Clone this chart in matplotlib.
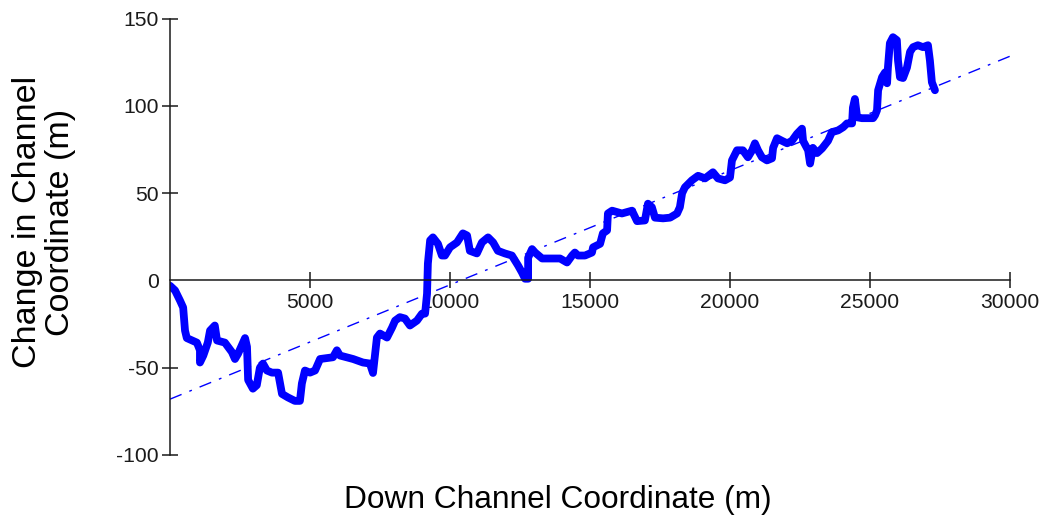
import matplotlib
matplotlib.use("Agg")
import matplotlib.pyplot as plt
import numpy as np

plt.rcParams["font.family"] = ["Liberation Sans", "DejaVu Sans"]

# Down-channel distance (m) and lateral change in channel coordinate (m)
down_channel = [
    0, 180, 357, 470, 536, 600, 960, 1070, 1070, 1190, 1350, 1430, 1600, 1680,
    1960, 2210, 2320, 2430, 2680, 2750, 2790, 2960, 3100, 3210, 3320, 3460,
    3640, 3860, 3930, 4000, 4210, 4460, 4640, 4710, 4820, 5000, 5180, 5360,
    5820, 5960, 6070, 6540, 6890, 7140, 7250, 7390, 7500, 7750, 7930, 8040,
    8210, 8390, 8570, 8820, 9000, 9110, 9180, 9210, 9290, 9390, 9570, 9710,
    9820, 10000, 10250, 10460, 10610, 10710, 10960, 11140, 11360, 11540, 11710,
    11960, 12210, 12430, 12570, 12680, 12790, 12790, 12930, 13040, 13290, 13640,
    13930, 14180, 14360, 14460, 14570, 14820, 15070, 15110, 15360, 15460, 15610,
    15640, 15790, 16140, 16500, 16680, 16960, 17070, 17210, 17320, 17610, 17860,
    18110, 18210, 18290, 18390, 18640, 18860, 19110, 19390, 19570, 19820, 20000,
    20070, 20250, 20460, 20640, 20790, 20890, 21000, 21140, 21320, 21500, 21540,
    21680, 21860, 22040, 22210, 22390, 22570, 22610, 22790, 22860, 22960, 23110,
    23290, 23500, 23640, 23860, 24040, 24180, 24360, 24390, 24460, 24540, 24710,
    24930, 25110, 25180, 25250, 25290, 25430, 25540, 25610, 25640, 25710, 25820,
    25960, 26000, 26070, 26180, 26320, 26430, 26540, 26710, 26890, 27070, 27140,
    27210, 27320,
]
channel_change = [
    -3, -5.7, -11.5, -15.5, -28.7, -33, -35.6, -40, -47, -43, -35.6, -28.7,
    -25.8, -34.4, -35.6, -41, -45, -42, -33, -38, -57, -62, -60, -50, -47.6,
    -51.6, -52.8, -52.8, -59, -65, -67, -69, -69, -59, -51.6, -52.8, -51.6,
    -45, -44, -40, -43, -45, -47, -47.6, -53, -32.7, -30.4, -32.7, -27, -23,
    -21, -21.8, -25.8, -23, -19, -19, -7.5, 9.7, 23, 24.7, 21, 14.3, 14.3, 19,
    21.8, 27, 25.8, 17, 15.5, 21.8, 24.7, 21.8, 17, 15.5, 14.3, 8.6, 4.6, 1, 1,
    13, 18, 16, 12.6, 12.6, 12.6, 10.3, 14.3, 16, 14.3, 14.3, 16, 19, 21, 27,
    28.7, 38.4, 40, 38.4, 40, 34, 34.4, 44, 42, 36, 35.6, 36, 38.4, 42, 50,
    53.4, 57.4, 60, 58.5, 62, 58.5, 57.4, 59, 68.8, 74.6, 74.6, 70.6, 74.6,
    78.6, 74.6, 70.6, 68.8, 70, 76, 81.5, 80, 78.6, 80, 84, 87, 80, 74.6, 67,
    76, 73, 75.7, 80, 85, 86, 87.8, 90, 90, 99, 104, 93.5, 93, 93, 93, 94.7,
    97.5, 109, 116.5, 119.3, 113, 122, 136, 139.4, 137.7, 126, 116.5, 116, 122,
    131, 133.7, 134.8, 133.7, 134.8, 126, 113.6, 109,
]

# Linear trend fitted to the profile
trend_intercept = -68.0
trend_slope = 0.00655
trend_range = [0, 30000]

x_ticks = [5000, 10000, 15000, 20000, 25000, 30000]
y_ticks = [-100, -50, 0, 50, 100, 150]

fig = plt.figure(figsize=(10.4, 5.22), dpi=100)
ax = fig.add_axes([170 / 1040, (522 - 455) / 522, 840 / 1040, 436.3 / 522])

tx = np.array(trend_range, dtype=float)
ax.plot(tx, trend_intercept + trend_slope * tx, color="#0000ff", lw=1.0,
        linestyle=(0, (9, 6, 2, 6)), zorder=1)
ax.plot(down_channel, channel_change, color="#0000ff", lw=5.6,
        solid_joinstyle="round", solid_capstyle="round", zorder=2)

ax.set_xlim(0, 30000)
ax.set_ylim(-100, 150)
ax.spines["top"].set_visible(False)
ax.spines["right"].set_visible(False)
ax.spines["bottom"].set_position(("data", 0))
for s in ("left", "bottom"):
    ax.spines[s].set_linewidth(1.1)
    ax.spines[s].set_color("#1a1a1a")

ax.set_xticks(x_ticks)
ax.set_yticks(y_ticks)
ax.set_xticklabels([str(v) for v in x_ticks])
ax.set_yticklabels([str(v) for v in y_ticks])
ax.tick_params(direction="inout", length=11.5, width=1.1, color="#1a1a1a",
               labelsize=15.2, labelcolor="#1a1a1a")
ax.tick_params(axis="x", pad=3.0)
ax.tick_params(axis="y", pad=2.4)
ax.yaxis.get_major_ticks()[2].tick1line.set_visible(False)

fig.text(558 / 1040, 1 - 500 / 522, "Down Channel Coordinate (m)",
         ha="center", va="center", fontsize=22.8, color="black")
fig.text(44 / 1040, 1 - 222 / 522, "Change in Channel\nCoordinate (m)",
         ha="center", va="center", rotation=90, fontsize=24.5,
         linespacing=1.05, multialignment="center", color="black")

fig.savefig("out.png", dpi=100)
